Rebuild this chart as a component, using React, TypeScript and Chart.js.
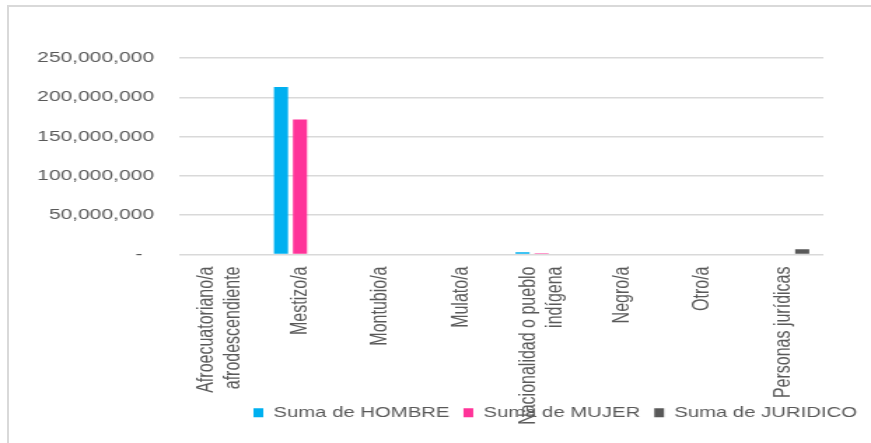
import React, { useEffect, useRef } from "react";
import { Chart, registerables } from "chart.js";

Chart.register(...registerables);

const categories: (string | string[])[] = [
  ["Afroecuatoriano/a", "afrodescendiente"],
  "Mestizo/a",
  "Montubio/a",
  "Mulato/a",
  ["Nacionalidad o pueblo", "indígena"],
  "Negro/a",
  "Otro/a",
  "Personas jurídicas",
];

const hombre = [0, 213200000, 0, 0, 2900000, 0, 0, 0];
const mujer = [0, 171800000, 0, 0, 1700000, 0, 0, 0];
const juridico = [0, 0, 0, 0, 0, 0, 0, 6700000];

const seriesNames = ["Suma de HOMBRE", "Suma de MUJER", "Suma de JURIDICO"];
const yTicks = [0, 50000000, 100000000, 150000000, 200000000, 250000000];

const STRETCH = 871 / 622;
const FONT = "'Liberation Sans', Arial, sans-serif";
const TEXT = "#595959";
const GRID = "#D9D9D9";

// Lets the rotated category labels run past the axis box (as in the reference)
// and centres multi-line labels on their tick.
const labelFix = {
  id: "labelFix",
  afterLayout(chart: any) {
    const s = chart.scales.x;
    if (s) s.bottom = chart.height;
  },
  beforeDraw(chart: any) {
    const s = chart.scales.x;
    if (!s) return;
    const items = s.getLabelItems();
    items.forEach((it: any) => {
      if (Array.isArray(it.label) && !it._centred) {
        const lh = it.font.lineHeight;
        it.options.translation[0] -= ((it.label.length - 1) * lh) / 2;
        it._centred = true;
      }
    });
  },
};

export default function App() {
  const ref = useRef<HTMLCanvasElement | null>(null);

  useEffect(() => {
    if (!ref.current) return;
    const chart = new Chart(ref.current, {
      type: "bar",
      data: {
        labels: categories,
        datasets: [
          { label: seriesNames[0], data: hombre, backgroundColor: "#00B0F0", borderWidth: 0 },
          { label: seriesNames[1], data: mujer, backgroundColor: "#FF3399", borderWidth: 0 },
          { label: seriesNames[2], data: juridico, backgroundColor: "#595959", borderWidth: 0 },
        ],
      },
      plugins: [labelFix],
      options: {
        animation: false,
        responsive: true,
        maintainAspectRatio: false,
        devicePixelRatio: 1,
        layout: { padding: { top: 58, left: 0, right: 0, bottom: 13 } },
        datasets: {
          bar: { categoryPercentage: 0.71, barPercentage: 0.74 },
        },
        plugins: {
          tooltip: { enabled: false },
          legend: {
            position: "bottom",
            align: "end",
            labels: {
              font: { family: FONT, size: 14.5 },
              color: TEXT,
              boxWidth: 7,
              boxHeight: 9,
              padding: 10,
            },
          },
        },
        scales: {
          x: {
            grid: { display: false, drawTicks: false },
            border: { display: false },
            ticks: {
              font: { family: FONT, size: 16 },
              color: TEXT,
              minRotation: 90,
              maxRotation: 90,
              autoSkip: false,
              padding: 12,
            },
            afterFit: (s: any) => {
              s.height = 141;
            },
          },
          y: {
            min: 0,
            max: 250000000,
            afterBuildTicks: (s: any) => {
              s.ticks = yTicks.map((v) => ({ value: v }));
            },
            grid: { color: GRID, lineWidth: 1.5, drawTicks: false },
            border: { display: false },
            ticks: {
              font: { family: FONT, size: 15 },
              color: TEXT,
              padding: 18,
              callback: (v: any) =>
                Number(v) === 0 ? "-  " : Number(v).toLocaleString("en-US"),
            },
            afterFit: (s: any) => {
              s.width = 128;
            },
          },
          y2: {
            position: "right",
            display: true,
            grid: { display: false, drawTicks: false },
            border: { display: false },
            ticks: { display: false },
            afterFit: (s: any) => {
              s.width = 34;
            },
          },
        },
      } as any,
    });
    return () => chart.destroy();
  }, []);

  return (
    <div style={{ position: "absolute", left: 0, top: 0, width: 871, height: 443, overflow: "hidden", background: "#fff" }}>
      <div
        style={{
          position: "absolute",
          left: 7,
          top: 5,
          right: 0,
          bottom: 0,
          borderTop: `2px solid ${GRID}`,
          borderLeft: `2px solid ${GRID}`,
        }}
      />
      <div
        style={{
          position: "absolute",
          left: 0,
          top: 0,
          width: 622,
          height: 443,
          transform: `scaleX(${STRETCH})`,
          transformOrigin: "0 0",
        }}
      >
        <canvas ref={ref} />
      </div>
    </div>
  );
}
